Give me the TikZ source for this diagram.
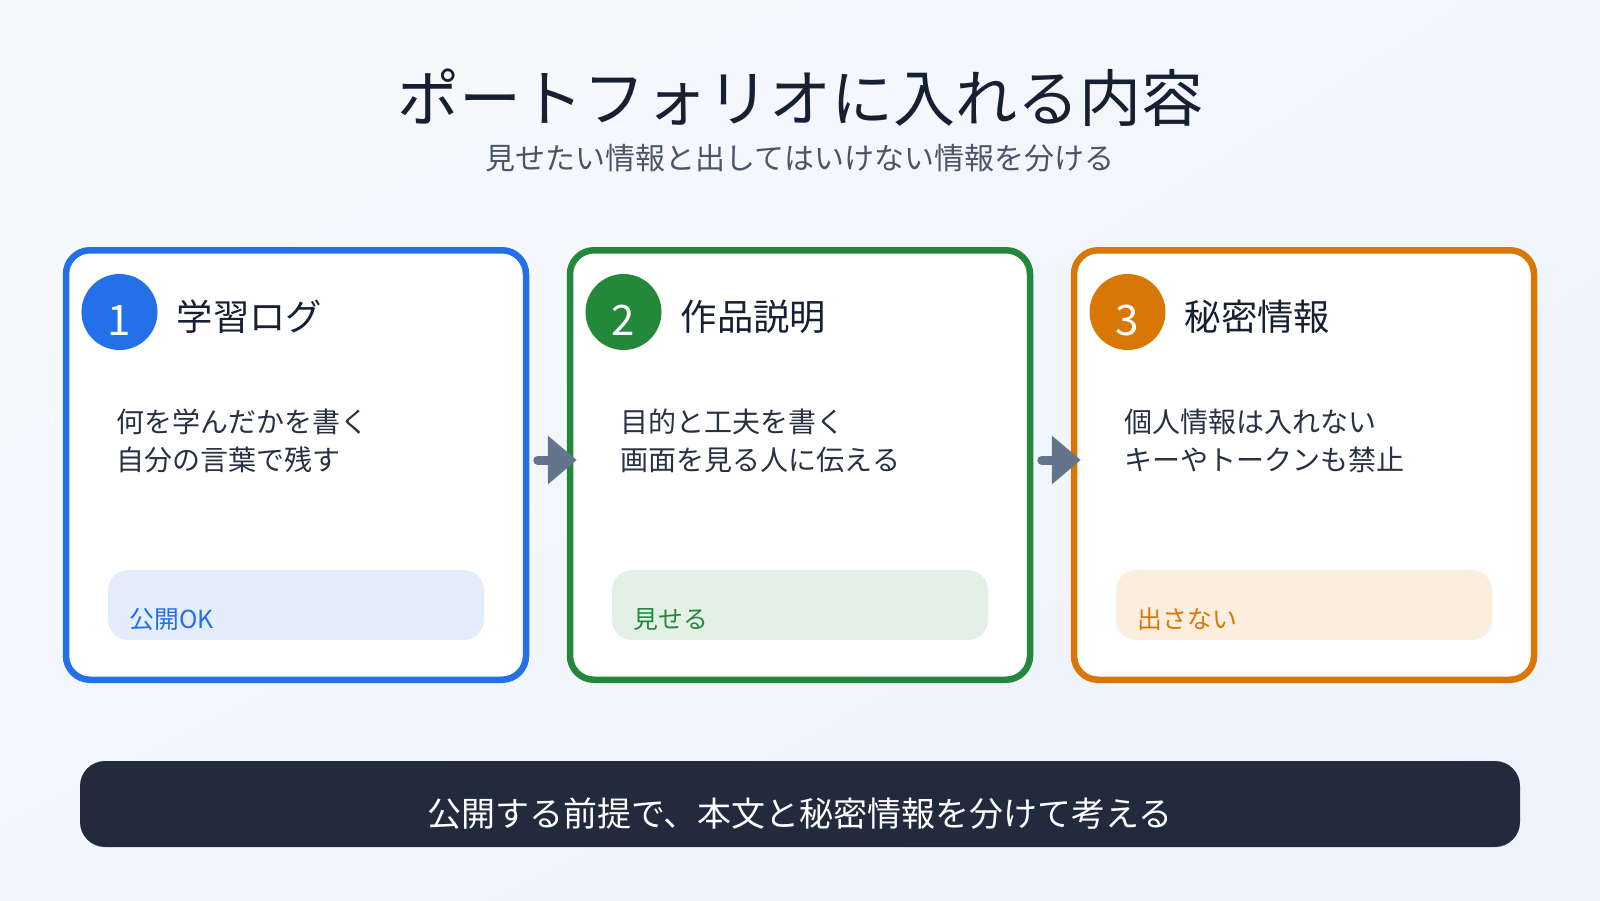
\documentclass[tikz,border=0pt]{standalone}
\usepackage{fontspec}
\setmainfont{Noto Sans CJK JP}
\usetikzlibrary{arrows.meta,shadings}
\definecolor{bgA}{HTML}{F8F9FB}
\definecolor{bgB}{HTML}{F2F6FC}
\definecolor{bgC}{HTML}{EDF4FE}
\definecolor{cblue}{HTML}{2370E8}
\definecolor{cgreen}{HTML}{23883A}
\definecolor{corange}{HTML}{D97706}
\definecolor{tblue}{HTML}{E3EDFC}
\definecolor{tgreen}{HTML}{E4F0E6}
\definecolor{torange}{HTML}{FBEEDF}
\definecolor{ink}{HTML}{172033}
\definecolor{body}{HTML}{273142}
\definecolor{subc}{HTML}{4B5568}
\definecolor{arrowc}{HTML}{64748B}
\definecolor{barc}{HTML}{222A3D}
\newcommand{\fs}[1]{\fontsize{#1}{#1}\selectfont}
\begin{document}
\begin{tikzpicture}[x=1pt,y=-1pt,
  card/.style={draw=#1, line width=6.5pt, fill=white, rounded corners=24pt,
    minimum width=460pt, minimum height=429.5pt, inner sep=0pt, outer sep=0pt},
  badge/.style={circle, fill=#1, minimum size=76pt, inner sep=0pt},
  digit/.style={anchor=base, inner sep=0pt, text=white, font=\fs{42}},
  head/.style={anchor=base west, inner sep=0pt, text=ink, font=\fs{36.3}},
  bodytxt/.style={anchor=base west, inner sep=0pt, text=body, font=\fs{28}},
  tagbox/.style={fill=#1, rounded corners=20pt, minimum width=376pt, minimum height=70pt, inner sep=0pt},
  tagtxt/.style={anchor=base west, inner sep=0pt, text=#1, font=\fs{24.8}},
  flow/.style={draw=arrowc, line width=9pt, line cap=round, -{Triangle[length=29pt,width=47pt]}}
]
\useasboundingbox (0,0) rectangle (1600,900);
\shade[upper left=bgA, upper right=bgB, lower left=bgB, lower right=bgC] (0,0) rectangle (1600,900);

% title
\node[anchor=base, inner sep=0pt, text=ink, font=\fs{62}] (title) at (800,121) {ポートフォリオに入れる内容};
\node[anchor=base, inner sep=0pt, text=subc, font=\fs{30}] (subtitle) at (800,169) {見せたい情報と出してはいけない情報を分ける};

% cards
\node[card=cblue] (b1) at (296,465) {};
\node[card=cgreen] (b2) at (800,465) {};
\node[card=corange] (b3) at (1304,465) {};

% card 1
\node[badge=cblue] (c1) at (119.5,312) {};
\node[digit] (d1) at (119.5,335) {1};
\node[head] (h1) at (176.75,330) {学習ログ};
\node[bodytxt] (t1a) at (116.75,432) {何を学んだかを書く};
\node[bodytxt] (t1b) at (116.75,470) {自分の言葉で残す};
\node[tagbox=tblue] (g1) at (296,605) {};
\node[tagtxt=cblue] (g1t) at (129.75,628) {公開OK};

% card 2
\node[badge=cgreen] (c2) at (623.5,312) {};
\node[digit] (d2) at (623.5,335) {2};
\node[head] (h2) at (680.75,330) {作品説明};
\node[bodytxt] (t2a) at (620.75,432) {目的と工夫を書く};
\node[bodytxt] (t2b) at (620.75,470) {画面を見る人に伝える};
\node[tagbox=tgreen] (g2) at (800,605) {};
\node[tagtxt=cgreen] (g2t) at (633.75,628) {見せる};

% card 3
\node[badge=corange] (c3) at (1127.5,312) {};
\node[digit] (d3) at (1127.5,335) {3};
\node[head] (h3) at (1184.75,330) {秘密情報};
\node[bodytxt] (t3a) at (1124.75,432) {個人情報は入れない};
\node[bodytxt] (t3b) at (1124.75,470) {キーやトークンも禁止};
\node[tagbox=torange] (g3) at (1304,605) {};
\node[tagtxt=corange] (g3t) at (1137.75,628) {出さない};

% arrows
\draw[flow] ([shift={(11.75,-5)}]b1.east) -- ([shift={(6.75,-5)}]b2.west);
\draw[flow] ([shift={(11.75,-5)}]b2.east) -- ([shift={(6.75,-5)}]b3.west);

% bottom bar
\node[fill=barc, rounded corners=25pt, minimum width=1440pt, minimum height=86pt, inner sep=0pt] (bar) at (800,804) {};
\node[anchor=base, inner sep=0pt, text=white, font=\fs{34}] (bart) at (800,826) {公開する前提で、本文と秘密情報を分けて考える};
\end{tikzpicture}
\end{document}
